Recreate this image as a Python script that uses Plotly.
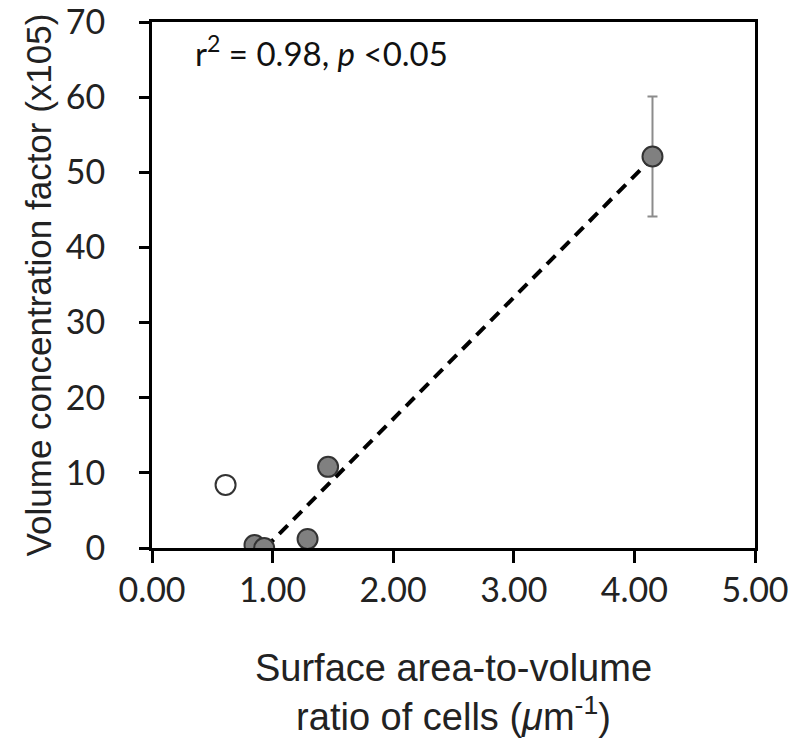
import numpy as np
import plotly.graph_objects as go

# Filled points (included in regression)
x_filled = [0.85, 0.93, 1.29, 1.46, 4.15]
y_filled = [0.4, 0.0, 1.2, 10.8, 52.1]
err_filled = [None, None, None, None, 8.0]
# Open point (excluded)
x_open = [0.61]
y_open = [8.4]

x_ticks = [0, 1, 2, 3, 4, 5]
x_ticklabels = ["0.00", "1.00", "2.00", "3.00", "4.00", "5.00"]
y_ticks = [0, 10, 20, 30, 40, 50, 60, 70]

slope, intercept = np.polyfit(x_filled, y_filled, 1)
x_line = [-intercept / slope, max(x_filled)]
y_line = [slope * v + intercept for v in x_line]

fig = go.Figure()
fig.add_trace(go.Scatter(x=x_line, y=y_line, mode="lines",
                         line=dict(color="black", width=4, dash="12px,8px"),
                         showlegend=False, hoverinfo="skip"))
fig.add_trace(go.Scatter(x=x_open, y=y_open, mode="markers",
                         marker=dict(size=20, color="white", line=dict(color="#333", width=2)),
                         showlegend=False))
ex = [x for x, e in zip(x_filled, err_filled) if e is not None]
ey = [y for y, e in zip(y_filled, err_filled) if e is not None]
ee = [e for e in err_filled if e is not None]
fig.add_trace(go.Scatter(x=ex, y=ey, mode="markers",
                         marker=dict(size=0.1, color="rgba(0,0,0,0)"),
                         error_y=dict(type="data", array=ee, color="#8c8c8c", thickness=2, width=5),
                         showlegend=False))
fig.add_trace(go.Scatter(x=x_filled, y=y_filled, mode="markers",
                         marker=dict(size=20, color="#808080", line=dict(color="#333", width=2)),
                         showlegend=False))

fig.add_annotation(x=0.068, y=0.944, xref="paper", yref="paper", xanchor="left", yanchor="middle",
                   text="r<sup>2</sup> = 0.98, <i>p</i> <0.05", showarrow=False,
                   font=dict(family="Lato", size=33, color="#111"))

fig.update_xaxes(range=[0, 5], tickvals=x_ticks, ticktext=x_ticklabels, automargin=False,
                 showline=True, linecolor="black", linewidth=3, mirror=True,
                 ticks="outside", ticklen=12, tickwidth=3, tickcolor="black",
                 showgrid=False, zeroline=False, ticklabelstandoff=-2, ticklabeloverflow="allow",
                 tickfont=dict(family="Lato", size=34, color="#222"),
                 title=dict(text="Surface area-to-volume<br>ratio of cells (<i>μ</i>m<sup>-1</sup>)",
                            font=dict(family="Liberation Sans", size=38, color="#222"), standoff=47))
fig.update_yaxes(range=[0, 70], tickvals=y_ticks, automargin=False,
                 showline=True, linecolor="black", linewidth=3, mirror=True,
                 ticks="outside", ticklen=10, tickwidth=3, tickcolor="black",
                 showgrid=False, zeroline=False, ticklabelstandoff=27, ticklabeloverflow="allow",
                 tickfont=dict(family="Lato", size=34, color="#222"),
                 title=dict(text="Volume concentration factor (x105)",
                            font=dict(family="Liberation Sans", size=35, color="#222"), standoff=4))
fig.update_layout(width=792, height=742, plot_bgcolor="white", paper_bgcolor="white",
                  margin=dict(l=144, r=45, t=14, b=202))
fig.write_html("out.html")
